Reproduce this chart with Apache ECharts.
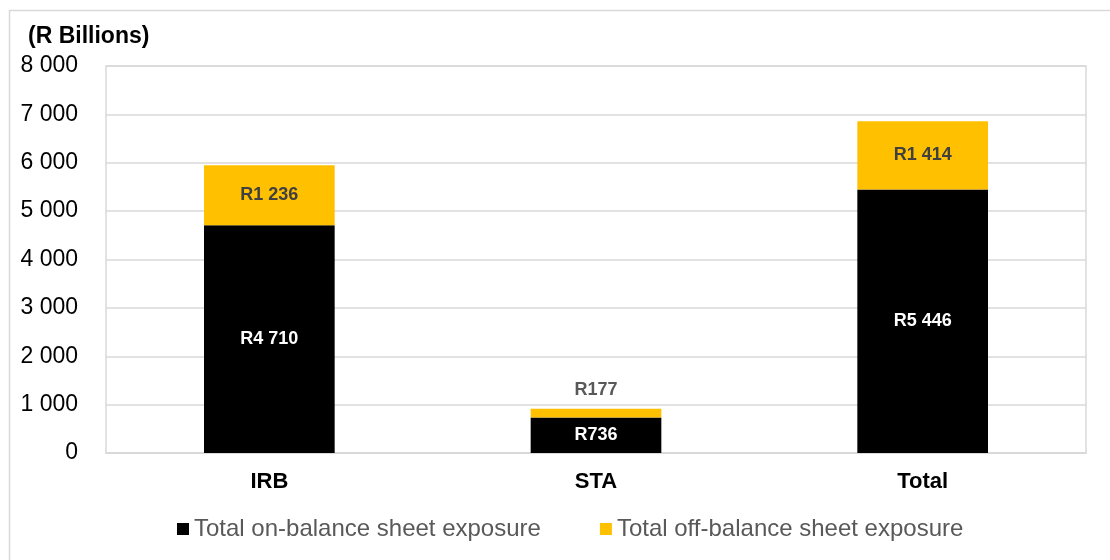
<!DOCTYPE html>
<html>
<head>
<meta charset="utf-8">
<script src="https://cdn.jsdelivr.net/npm/echarts@6/dist/echarts.min.js"></script>
<style>
  html, body { margin: 0; padding: 0; background: #ffffff; }
  #chart { width: 1110px; height: 560px; }
</style>
</head>
<body>
<div id="chart"></div>
<script>
// Exposure by approach, R billions
const categories = ['IRB', 'STA', 'Total'];
const onBalance = [4710, 736, 5446];
const offBalance = [1236, 177, 1414];
const yTicks = [0, 1000, 2000, 3000, 4000, 5000, 6000, 7000, 8000];
const seriesNames = ['Total on-balance sheet exposure', 'Total off-balance sheet exposure'];

const FONT = "'Liberation Sans', Arial, sans-serif";
const GRID_COLOR = '#d9d9d9';

function spaced(v) {
  return String(v).replace(/\B(?=(\d{3})+(?!\d))/g, ' ');
}
function rand(v) {
  return 'R' + spaced(v);
}

const chart = echarts.init(document.getElementById('chart'), null, { renderer: 'canvas' });

chart.setOption({
  animation: false,
  backgroundColor: '#ffffff',
  graphic: [{
    type: 'rect',
    shape: { x: 9.5, y: 10.5, width: 1200, height: 600 },
    style: { fill: 'none', stroke: GRID_COLOR, lineWidth: 1.5 },
    silent: true
  }],
  title: {
    text: '(R Billions)',
    left: 28,
    top: 25,
    padding: 0,
    textStyle: { fontFamily: FONT, fontSize: 23, fontWeight: 'bold', color: '#000000' }
  },
  grid: {
    left: 106, right: 24, top: 66, bottom: 107,
    show: true, borderColor: GRID_COLOR, borderWidth: 1.5, backgroundColor: 'transparent'
  },
  legend: {
    left: 172,
    top: 512,
    itemWidth: 12,
    itemHeight: 12,
    itemGap: 59,
    icon: 'rect',
    data: seriesNames,
    textStyle: { fontFamily: FONT, fontSize: 24, color: '#595959', padding: [0, 0, 0, 0] }
  },
  xAxis: {
    type: 'category',
    data: categories,
    axisLine: { lineStyle: { color: GRID_COLOR, width: 1.5 } },
    axisTick: { show: false },
    axisLabel: { margin: 18, fontFamily: FONT, fontSize: 22, fontWeight: 'bold', color: '#000000' }
  },
  yAxis: {
    type: 'value',
    min: yTicks[0],
    max: yTicks[yTicks.length - 1],
    interval: yTicks[1] - yTicks[0],
    axisLine: { show: false },
    axisTick: { show: false },
    splitLine: { lineStyle: { color: GRID_COLOR, width: 1.5 } },
    axisLabel: {
      margin: 28, fontFamily: FONT, fontSize: 23, color: '#000000',
      padding: [5, 0, 0, 0], formatter: spaced
    }
  },
  series: [
    {
      name: seriesNames[0],
      type: 'bar',
      stack: 'exposure',
      barWidth: '40%',
      itemStyle: { color: '#000000' },
      label: {
        show: true,
        position: 'inside',
        fontFamily: FONT, fontSize: 18, fontWeight: 'bold', color: '#ffffff',
        formatter: p => rand(p.value)
      },
      data: onBalance
    },
    {
      name: seriesNames[1],
      type: 'bar',
      stack: 'exposure',
      barWidth: '40%',
      itemStyle: { color: '#ffc000' },
      label: {
        show: true,
        position: 'inside',
        fontFamily: FONT, fontSize: 18, fontWeight: 'bold', color: '#404040',
        formatter: p => rand(p.value)
      },
      data: offBalance.map((v, i) => categories[i] === 'STA'
        ? { value: v, label: { position: 'top', distance: 10, color: '#595959' } }
        : v)
    }
  ]
});
</script>
</body>
</html>
